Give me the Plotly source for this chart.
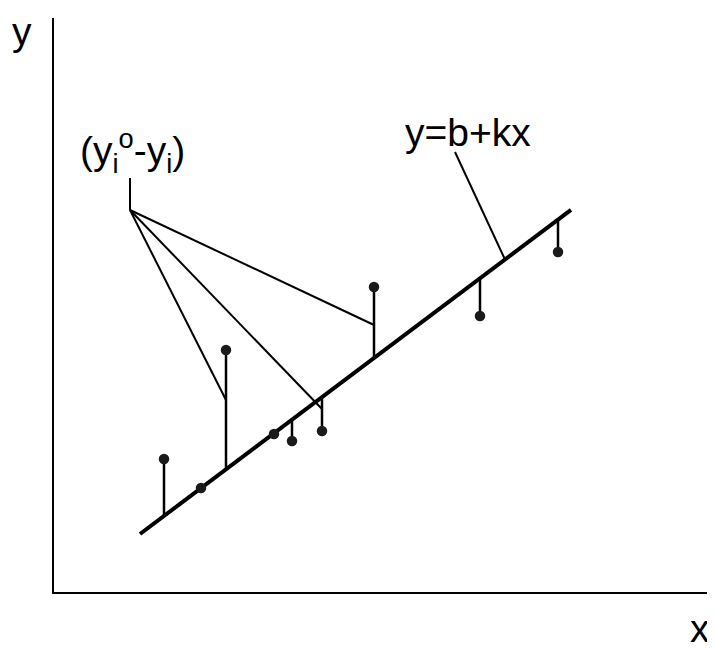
import plotly.graph_objects as go

# fitted line y = b + k*x
b = -0.667
k = 0.752
line_x = [8.6, 51.7]

# observed points (x_i, y_i^o)
obs_x = [11.0, 14.7, 17.2, 22.0, 23.8, 26.8, 32.0, 42.6, 50.4]
obs_y = [13.3, 10.4, 24.2, 15.8, 15.1, 16.1, 30.5, 27.6, 34.0]

# residuals picked out by the "(yio-yi)" label, and where the leader meets them
leader_idx = [2, 5, 6]
leader_y = [19.2, 18.3, 26.7]
leader_origin = (7.6, 38.2)
leader_stub_top = 41.4

# leader for the equation label, end lands on the fitted line
eq_leader_x = [40.1, 45.1]
eq_leader_top = 44.0

def fit(x):
    return b + k * x

fig = go.Figure()

# residual segments
rx, ry = [], []
for x, y in zip(obs_x, obs_y):
    rx += [x, x, None]
    ry += [y, fit(x), None]
fig.add_trace(go.Scatter(x=rx, y=ry, mode='lines',
                         line=dict(color='black', width=2.5), hoverinfo='skip'))

# leader lines from the residual label
lx = [leader_origin[0], leader_origin[0], None]
ly = [leader_stub_top, leader_origin[1], None]
for i, yy in zip(leader_idx, leader_y):
    lx += [leader_origin[0], obs_x[i], None]
    ly += [leader_origin[1], yy, None]
lx += [eq_leader_x[0], eq_leader_x[1]]
ly += [eq_leader_top, fit(eq_leader_x[1])]
fig.add_trace(go.Scatter(x=lx, y=ly, mode='lines',
                         line=dict(color='black', width=2), hoverinfo='skip'))

# regression line
fig.add_trace(go.Scatter(x=line_x, y=[fit(v) for v in line_x], mode='lines',
                         line=dict(color='black', width=4), hoverinfo='skip'))

# observed points
fig.add_trace(go.Scatter(x=obs_x, y=obs_y, mode='markers',
                         marker=dict(color='#1a1a1a', size=10.5), hoverinfo='skip'))

font = dict(family='Liberation Sans, Arial', size=39, color='black')
fig.add_annotation(x=41.4, y=46.0, text='y=b+kx', showarrow=False, font=font)
fig.add_annotation(x=7.8, y=44.1, text='(y<sub>i</sub><sup>o</sup>-y<sub>i</sub>)',
                   showarrow=False, font=font)
# axis names sit outside the plot area, so place them in paper coords
fig.add_annotation(xref='paper', yref='paper', x=-0.048, y=0.977, text='y',
                   xanchor='center', yanchor='middle', showarrow=False, font=font)
fig.add_annotation(xref='paper', yref='paper', x=0.977, y=-0.064, text='x',
                   xanchor='center', yanchor='middle', showarrow=False, font=font)

# page body has an 8px margin, so the figure is sized to fit inside the window
fig.update_layout(
    width=707,
    height=641,
    autosize=False,
    showlegend=False,
    template='plotly_white',
    plot_bgcolor='white',
    paper_bgcolor='white',
    margin=dict(l=46, r=0, t=10, b=57),
)
fig.update_xaxes(range=[0, 66.1], showgrid=False, zeroline=False, showticklabels=False,
                 ticks='', showline=True, linecolor='black', linewidth=2)
fig.update_yaxes(range=[0, 57.4], showgrid=False, zeroline=False, showticklabels=False,
                 ticks='', showline=True, linecolor='black', linewidth=2)

fig.write_html("out.html")
